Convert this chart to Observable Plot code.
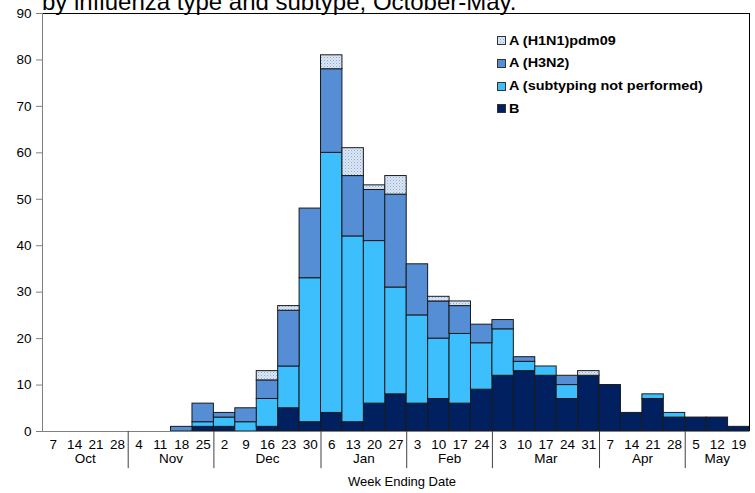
<!DOCTYPE html>
<html>
<head>
<meta charset="utf-8">
<script src="https://cdn.jsdelivr.net/npm/d3@7"></script>
<script src="https://cdn.jsdelivr.net/npm/@observablehq/plot@0.6"></script>
<style>
  body { margin: 0; background: #fff; font-family: "Liberation Sans", Arial, sans-serif; }
  #wrap { position: relative; width: 755px; height: 493px; overflow: hidden; }
  #title { position: absolute; left: 42px; top: -10px; font-size: 24px; line-height: 1; white-space: nowrap; color: #000; }
  #legend { position: absolute; left: 497px; top: 0; font-weight: bold; font-size: 12px; color: #000; }
  .row { position: absolute; left: 0; display: flex; align-items: center; white-space: nowrap; height: 14px; }
  .row svg { margin-right: 3px; }
  .row span { display: inline-block; transform: scaleX(1.2); transform-origin: left center; }
</style>
</head>
<body>
<div id="wrap">
  <div id="chart"></div>
  <div id="title">by influenza type and subtype, October-May.</div>
  <div id="legend"></div>
</div>
<script>
// Week-ending day labels (October to May)
const weeks = ["7","14","21","28","4","11","18","25","2","9","16","23","30","6","13","20","27","3","10","17","24","3","10","17","24","31","7","14","21","28","5","12","19"];
const months = ["Oct","Nov","Dec","Jan","Feb","Mar","Apr","May"];
const monthWeeks = [4, 4, 5, 4, 4, 5, 4, 3];

// Series values per week
const B    = [0,0,0,0, 0,0,0,1, 1,0,1,5,2, 4,2,6,8, 6,7,6,9, 12,13,12,7,12, 10,4,7,3, 3,3,1];
const NP   = [0,0,0,0, 0,0,0,1, 2,2,6,9,31, 56,40,35,23, 19,13,15,10, 10,2,2,3,0, 0,0,1,1, 0,0,0];
const H3N2 = [0,0,0,0, 0,0,1,4, 1,3,4,12,15, 18,13,11,20, 11,8,6,4, 2,1,0,2,0, 0,0,0,0, 0,0,0];
const H1N1 = [0,0,0,0, 0,0,0,0, 0,0,2,1,0, 3,6,1,4, 0,1,1,0, 0,0,0,0,1, 0,0,0,0, 0,0,0];

const types = ["B", "A (subtyping not performed)", "A (H3N2)", "A (H1N1)pdm09"];
const colors = ["#002060", "#3DBFFD", "#558ED5", "url(#hatch)"];
const seriesVals = [B, NP, H3N2, H1N1];

const data = types.flatMap((type, k) => seriesVals[k].map((value, i) => ({i, type, value}))).filter(d => d.value > 0);

// month centers and boundaries
const monthStarts = monthWeeks.map((w, k) => d3.sum(monthWeeks.slice(0, k)));
const monthCenters = monthStarts.map((s, k) => s + monthWeeks[k] / 2);
const bounds = monthStarts.slice(1);
const nWeeks = weeks.length;

const font = "'Liberation Sans', Arial, sans-serif";

const plot = Plot.plot({
  width: 755,
  height: 493,
  marginLeft: 42,
  marginRight: 6,
  marginTop: 13,
  marginBottom: 62,
  style: {fontFamily: font, fontSize: "13px", background: "white", color: "black", overflow: "visible"},
  x: {type: "linear", domain: [0, nWeeks], axis: null},
  y: {domain: [0, 90], axis: null},
  color: {type: "ordinal", domain: types, range: colors},
  marks: [
    Plot.rectY(data, {x1: "i", x2: d => d.i + 1, y: "value", fill: "type", stroke: "#1a1a1a", strokeWidth: 1}),
    Plot.ruleY([90], {stroke: "#000"}),
    Plot.ruleX([nWeeks], {stroke: "#000"}),
    Plot.ruleX([0], {stroke: "#808080"}),
    Plot.ruleY([0], {stroke: "#808080"}),
    Plot.axisY({ticks: d3.range(0, 91, 10), tickSize: 6, tickPadding: 5, stroke: "#808080", fill: "#000", fontSize: 13.5, fontFamily: font, label: null}),
    Plot.ruleX(bounds, {y1: 0, y2: -8, stroke: "#404040", clip: false}),
    Plot.text(weeks, {x: (d, i) => i + 0.5, text: d => d, frameAnchor: "bottom", dy: 17, fontSize: 13.5, fontFamily: font}),
    Plot.text(months, {x: (d, i) => monthCenters[i], text: d => d, frameAnchor: "bottom", dy: 31, fontSize: 13.5, fontFamily: font}),
    Plot.text(["Week Ending Date"], {text: d => d, frameAnchor: "bottom", dy: 54, dx: 6, fontSize: 13, fontFamily: font})
  ]
});

plot.insertAdjacentHTML("afterbegin",
  '<defs><pattern id="hatch" width="3" height="3" patternUnits="userSpaceOnUse">' +
  '<rect width="3" height="3" fill="#dce7f6"/><rect x="0" y="0" width="1" height="1" fill="#8ea9d2"/>' +
  '<rect x="1.5" y="1.5" width="1" height="1" fill="#a9bfe0"/></pattern></defs>');
document.getElementById("chart").appendChild(plot);

// Legend (top-right, reversed order: H1N1 first)
const legendOrder = [3, 2, 1, 0];
const rowY = [40.5, 63.3, 86.2, 108.8];
const legend = document.getElementById("legend");
legendOrder.forEach((k, r) => {
  const row = document.createElement("div");
  row.className = "row";
  row.style.top = (rowY[r] - 7) + "px";
  row.innerHTML = `<svg width="9" height="9"><rect x="0.5" y="0.5" width="8" height="8" fill="${colors[k]}" stroke="#333"/></svg><span>${types[k]}</span>`;
  legend.appendChild(row);
});
</script>
</body>
</html>
